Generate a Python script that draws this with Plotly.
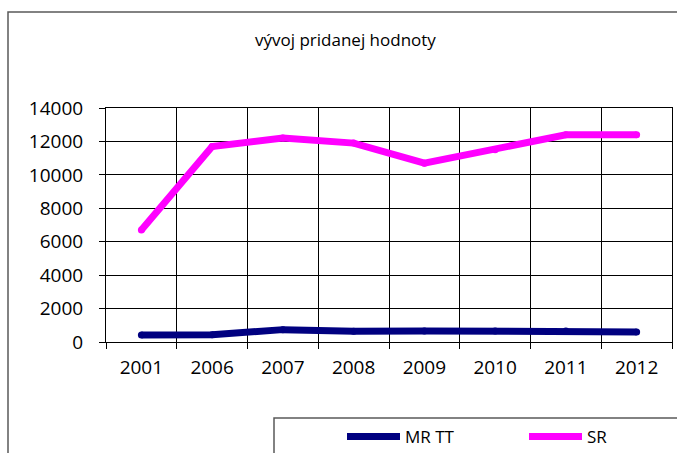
import plotly.graph_objects as go

# data
years = ["2001", "2006", "2007", "2008", "2009", "2010", "2011", "2012"]
mr_tt = [420, 440, 740, 640, 660, 660, 660, 600]
sr = [6700, 11700, 12200, 11900, 10700, 11500, 12400, 12400]

title_text = "vývoj pridanej hodnoty"
font_family = "Open Sans, Liberation Sans, sans-serif"

fig = go.Figure()
fig.add_trace(go.Scatter(x=years, y=mr_tt, name="MR TT", mode="lines+markers",
                         line=dict(color="#000080", width=7),
                         marker=dict(color="#000080", size=7)))
fig.add_trace(go.Scatter(x=years, y=sr, name="SR", mode="lines+markers",
                         line=dict(color="#FF00FF", width=7),
                         marker=dict(color="#FF00FF", size=7)))

W, H = 677, 453
# plot area in px: x 106..672, y 108..342
L, R, T, B = 106, 672, 108, 342
pw, ph = R - L, B - T

def px_x(v):
    return (v - L) / pw

def px_y(v):
    return (B - v) / ph

fig.update_layout(
    width=W, height=H,
    margin=dict(l=L, r=W - R, t=T, b=H - B, autoexpand=False),
    paper_bgcolor="white", plot_bgcolor="white",
    font=dict(family=font_family, size=19, color="black"),
    showlegend=True,
    legend=dict(orientation="h", x=px_x(342), xanchor="left",
                y=px_y(437), yanchor="middle",
                bgcolor="rgba(0,0,0,0)", borderwidth=0,
                entrywidth=114, entrywidthmode="pixels",
                itemwidth=53, font=dict(size=17)),
    annotations=[dict(text=title_text, xref="paper", yref="paper",
                      x=px_x(345), y=px_y(40), showarrow=False,
                      xanchor="center", yanchor="middle",
                      font=dict(size=17))],
    shapes=[
        # chart area border (runs off the right and bottom edges)
        dict(type="rect", xref="paper", yref="paper",
             x0=px_x(8), x1=px_x(720), y0=px_y(500), y1=px_y(12),
             line=dict(color="#595959", width=1.5)),
        # legend box
        dict(type="rect", xref="paper", yref="paper",
             x0=px_x(274), x1=px_x(720), y0=px_y(500), y1=px_y(418),
             line=dict(color="#595959", width=1.5)),
    ],
)

fig.update_xaxes(type="category", tickson="boundaries", showgrid=True,
                 gridcolor="black", gridwidth=1,
                 showline=True, linecolor="black", linewidth=1, mirror=True,
                 ticks="outside", ticklen=6, tickcolor="black",
                 ticklabelstandoff=8, range=[-0.5, 7.5])
fig.update_yaxes(range=[0, 14000], dtick=2000, showgrid=True,
                 gridcolor="black", gridwidth=1, zeroline=False,
                 showline=True, linecolor="black", linewidth=1, mirror=True,
                 ticks="outside", ticklen=6, tickcolor="black",
                 ticklabelstandoff=12, tickformat="d")

# drop the default page margin so the figure sits at the window corner
fig.write_html("out.html", config={"displayModeBar": False},
               post_script="document.body.style.margin='0';"
                           "document.body.style.overflow='hidden';")
